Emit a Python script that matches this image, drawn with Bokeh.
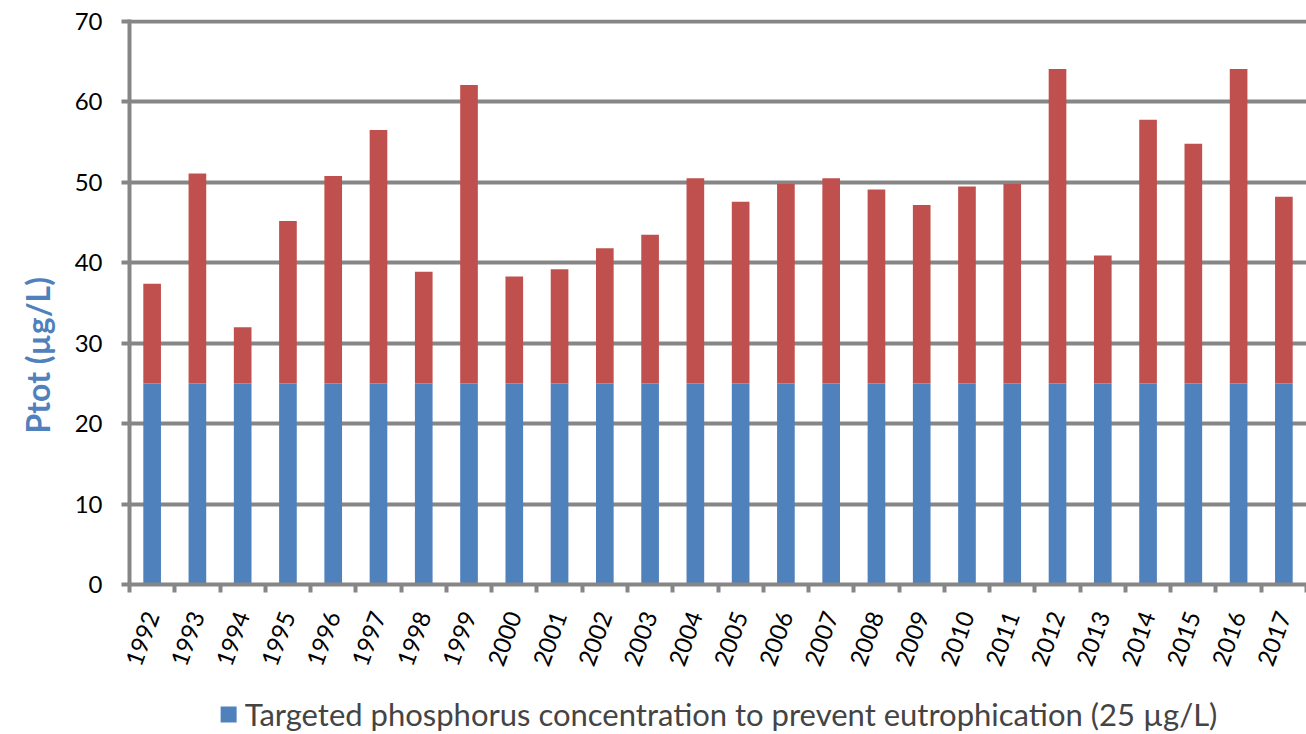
from bokeh.plotting import figure
from bokeh.layouts import column
from bokeh.models import Range1d, FixedTicker, Legend, LegendItem, Title
from bokeh.embed import file_html
from bokeh.resources import INLINE

years = list(range(1992, 2018))
totals = [37.4, 51.1, 32.0, 45.2, 50.8, 56.5, 38.9, 62.1, 38.3, 39.2, 41.8, 43.5, 50.5,
          47.6, 49.8, 50.5, 49.1, 47.2, 49.5, 49.8, 64.1, 40.9, 57.8, 54.8, 64.1, 48.2]
target = 25
targets = [target] * len(years)
legend_label = "Targeted phosphorus concentration to prevent eutrophication (25 µg/L)"
y_title = "Ptot (µg/L)"

BLUE = "#4F81BD"
RED = "#C0504D"
GRID = "#868686"
FONT = "Lato"

p = figure(width=1306, height=694, output_backend="svg", toolbar_location=None,
           x_range=Range1d(years[0] - 0.5, years[-1] + 0.5),
           y_range=Range1d(0, 70.25),
           min_border_left=129, min_border_right=0, min_border_top=19, min_border_bottom=110)
p.outline_line_color = None
p.background_fill_color = "white"
p.border_fill_color = "white"

blue = p.vbar(x=years, top=targets, bottom=0, width=0.39, fill_color=BLUE, line_color=None)
p.vbar(x=years, top=totals, bottom=targets, width=0.39, fill_color=RED, line_color=None)

# axes
p.yaxis.ticker = FixedTicker(ticks=list(range(0, 71, 10)))
p.xaxis.ticker = FixedTicker(ticks=years, minor_ticks=[y - 0.5 for y in years] + [years[-1] + 0.5])
p.xgrid.grid_line_color = None
p.ygrid.grid_line_color = GRID
p.ygrid.grid_line_width = 4

for ax in (p.xaxis[0], p.yaxis[0]):
    ax.axis_line_color = GRID
    ax.axis_line_width = 4
    ax.major_label_text_font = FONT
    ax.major_label_text_font_size = "24px"
    ax.major_label_text_color = "black"

p.yaxis.major_tick_line_color = GRID
p.yaxis.major_tick_line_width = 4
p.yaxis.major_tick_out = 8
p.yaxis.major_tick_in = 0
p.yaxis.minor_tick_line_color = None
p.yaxis.major_label_standoff = 19

p.xaxis.major_tick_line_color = None
p.xaxis.minor_tick_line_color = GRID
p.xaxis.minor_tick_line_width = 4
p.xaxis.minor_tick_out = 8
p.xaxis.minor_tick_in = 0
p.xaxis.major_label_orientation = 1.22
p.xaxis.major_label_standoff = 20

t = Title(text=y_title, align="left", offset=151, standoff=26, vertical_align="top",
          text_font=FONT, text_font_size="32px", text_font_style="bold", text_color=BLUE)
p.add_layout(t, "left")

# legend strip below the chart
lg = figure(width=1306, height=40, output_backend="svg", toolbar_location=None,
            x_range=Range1d(0, 1), y_range=Range1d(0, 1),
            x_axis_type=None, y_axis_type=None,
            min_border_left=128, min_border_right=0, min_border_top=0, min_border_bottom=0)
lg.outline_line_color = None
lg.xgrid.grid_line_color = None
lg.ygrid.grid_line_color = None
# swatch renderer: its data lie outside this strip's ranges, only the legend shows it
swatch = lg.vbar(x=years[:1], top=targets[:1], width=0.39, fill_color=BLUE, line_color=None)
legend = Legend(items=[LegendItem(label=legend_label, renderers=[swatch])],
                location="center", orientation="horizontal",
                label_text_font=FONT, label_text_font_size="31px",
                glyph_width=20, glyph_height=20, label_standoff=7,
                padding=0, margin=0, border_line_color=None, background_fill_alpha=0)
lg.add_layout(legend, "center")

open("out.html", "w").write(file_html(column(p, lg, spacing=0), INLINE))
